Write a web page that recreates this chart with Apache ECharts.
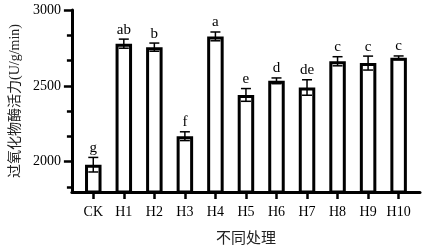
<!DOCTYPE html>
<html>
<head>
<meta charset="utf-8">
<script src="https://cdn.jsdelivr.net/npm/echarts@6/dist/echarts.min.js"></script>
<style>html,body{margin:0;padding:0;background:#fff}#c{width:425px;height:252px}</style>
</head>
<body>
<div id="c"></div>
<script>
var categories = ['CK','H1','H2','H3','H4','H5','H6','H7','H8','H9','H10'];
var means = [1980, 2778, 2755, 2168, 2826, 2440, 2533, 2489, 2662, 2650, 2685];
var errors = [48, 30, 27, 29, 29, 42, 19, 51, 30, 46, 12];
var letters = ['g','ab','b','f','a','e','d','de','c','c','c'];
var yMajorTicks = [2000, 2500, 3000];
var yMinorTicks = [1833.33, 2166.67, 2333.33, 2666.67, 2833.33];

var serif = '"Liberation Serif", "Times New Roman", "Noto Sans CJK SC", serif';
var cjk = '"Liberation Serif", "Noto Sans CJK SC", sans-serif';
var idx = categories.map(function (c, i) { return i; });

var chart = echarts.init(document.getElementById('c'), null, {renderer: 'canvas'});
chart.setOption({
  animation: false,
  backgroundColor: '#fff',
  grid: {left: 71, right: 5, top: 10, bottom: 54, containLabel: false},
  xAxis: {
    type: 'value', min: -0.7, max: 10.7,
    name: '不同处理', nameLocation: 'middle', nameGap: 40,
    nameTextStyle: {fontFamily: cjk, fontSize: 15, color: '#222'},
    axisLine: {show: true, onZero: false, lineStyle: {color: '#000', width: 3}},
    axisTick: {show: true, customValues: idx, length: 7, lineStyle: {color: '#000', width: 2.5}},
    axisLabel: {show: true, customValues: idx, margin: 13, fontFamily: serif, fontSize: 14, color: '#000',
      formatter: function (v) { return categories[Math.round(v)]; }},
    splitLine: {show: false}
  },
  yAxis: [{
    type: 'value', min: 1800, max: 3000,
    name: '过氧化物酶活力(U/g/min)', nameLocation: 'middle', nameGap: 49,
    nameTextStyle: {fontFamily: cjk, fontSize: 14, color: '#222'},
    axisLine: {show: true, onZero: false, lineStyle: {color: '#000', width: 3}},
    axisTick: {show: true, customValues: yMajorTicks, length: 8, lineStyle: {color: '#000', width: 2.5}},
    axisLabel: {show: true, customValues: yMajorTicks, margin: 11, fontFamily: serif, fontSize: 14, color: '#000',
      formatter: function (v) { return String(v); }},
    splitLine: {show: false}
  }, {
    type: 'value', min: 1800, max: 3000, position: 'left', offset: 0,
    axisLine: {show: false, onZero: false},
    axisTick: {show: true, customValues: yMinorTicks, length: 5, lineStyle: {color: '#000', width: 2.5}},
    axisLabel: {show: false},
    splitLine: {show: false}
  }],
  series: [{
    type: 'bar',
    xAxisIndex: 0, yAxisIndex: 0,
    barWidth: 16.5,
    data: means.map(function (v, i) { return [i, v]; }),
    itemStyle: {color: '#fff', borderColor: '#000', borderWidth: 3},
    z: 2
  }, {
    type: 'custom',
    xAxisIndex: 0, yAxisIndex: 0,
    data: means.map(function (v, i) { return [i, v, errors[i], letters[i]]; }),
    renderItem: function (params, api) {
      var x = api.value(0), m = api.value(1), e = api.value(2);
      var top = api.coord([x, m + e]);
      var bot = api.coord([x, m - e]);
      var hw = 5;
      var ls = {stroke: '#000', lineWidth: 1.5};
      return {
        type: 'group',
        children: [
          {type: 'line', shape: {x1: top[0], y1: top[1], x2: bot[0], y2: bot[1]}, style: ls},
          {type: 'line', shape: {x1: top[0] - hw, y1: top[1], x2: top[0] + hw, y2: top[1]}, style: ls},
          {type: 'line', shape: {x1: bot[0] - hw, y1: bot[1], x2: bot[0] + hw, y2: bot[1]}, style: ls},
          {type: 'text', x: top[0], y: top[1] - 2,
            style: {text: letters[params.dataIndex], fontFamily: serif, fontSize: 15, fill: '#000',
              align: 'center', verticalAlign: 'bottom'}}
        ]
      };
    },
    z: 3
  }]
});
</script>
</body>
</html>
